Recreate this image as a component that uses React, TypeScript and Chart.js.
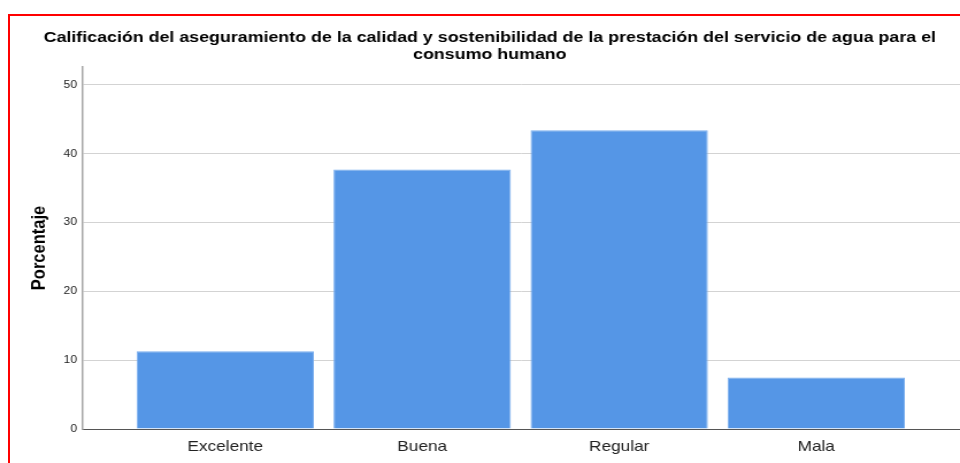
import React, { useEffect, useRef } from "react";
import { Chart, registerables } from "chart.js";

Chart.register(...registerables);

const titleLines = [
  "Calificación del aseguramiento de la calidad y sostenibilidad de la prestación del servicio de agua para el",
  "consumo humano",
];
const categories = ["Excelente", "Buena", "Regular", "Mala"];
const percentages = [11.3, 37.7, 43.4, 7.5];
const yTicks = [0, 10, 20, 30, 40, 50];
const yAxisTitle = "Porcentaje";

const INNER_W = 835;
const OUTER_W = 960;
const H = 463;
const FONT = "Liberation Sans, Arial, sans-serif";

export default function App() {
  const ref = useRef<HTMLCanvasElement | null>(null);

  useEffect(() => {
    document.body.style.margin = "0";
    const canvas = ref.current;
    if (!canvas) return;
    const chart = new Chart(canvas, {
      type: "bar",
      data: {
        datasets: [
          {
            data: percentages.map((v, i) => ({ x: i, y: v })),
            backgroundColor: "#5596e6",
            borderColor: "#7aaeee",
            borderWidth: 1,
            barPercentage: 0.9,
            categoryPercentage: 1,
          },
        ],
      },
      options: {
        animation: false,
        responsive: false,
        maintainAspectRatio: false,
        layout: { padding: { left: 17, right: 0, top: 0, bottom: 0 } },
        plugins: {
          legend: { display: false },
          tooltip: { enabled: false },
          title: {
            display: true,
            text: titleLines,
            color: "#000",
            font: { family: FONT, size: 15.5, weight: "bold", lineHeight: 17 / 15.5 },
            padding: { top: 29.5, bottom: 3.5 },
          },
        },
        scales: {
          x: {
            type: "linear",
            offset: false,
            min: -0.723,
            max: 3.73,
            afterBuildTicks: (s: any) => {
              s.ticks = categories.map((_, i) => ({ value: i }));
            },
            afterFit: (s: any) => {
              s.height = 34;
            },
            ticks: {
              callback: (v: any) => categories[v as number] ?? "",
              color: "#222",
              font: { family: FONT, size: 15 },
              padding: 9,
              maxRotation: 0,
              autoSkip: false,
            },
            grid: { display: false, drawTicks: false, offset: false },
            border: { display: true, color: "#555", width: 1 },
          },
          y: {
            min: 0,
            max: 52.6,
            afterBuildTicks: (s: any) => {
              s.ticks = yTicks.map((v) => ({ value: v }));
            },
            afterFit: (s: any) => {
              s.width = 55;
            },
            ticks: {
              color: "#222",
              font: { family: FONT, size: 10.5 },
              padding: 5,
            },
            grid: { color: "#d3d3d3", lineWidth: 1, drawTicks: false },
            border: { display: true, color: "#a6a6a6", width: 1.5 },
            title: {
              display: true,
              text: yAxisTitle,
              color: "#000",
              font: { family: FONT, size: 16.5, weight: "bold", lineHeight: 1.2 },
              padding: { top: 8, bottom: 0 },
            },
          },
        },
      },
    });
    return () => chart.destroy();
  }, []);

  return (
    <div style={{ position: "relative", width: OUTER_W, height: H, overflow: "hidden", background: "#fff" }}>
      <div
        style={{
          position: "absolute",
          left: 8,
          top: 14,
          width: 1000,
          height: 600,
          borderLeft: "2px solid #ff0000",
          borderTop: "2px solid #ff0000",
        }}
      />
      <div
        style={{
          position: "absolute",
          left: 0,
          top: 0,
          width: INNER_W,
          height: H,
          transform: `scaleX(${OUTER_W / INNER_W})`,
          transformOrigin: "0 0",
        }}
      >
        <canvas ref={ref} width={INNER_W} height={H} style={{ width: INNER_W, height: H, display: "block" }} />
      </div>
    </div>
  );
}
